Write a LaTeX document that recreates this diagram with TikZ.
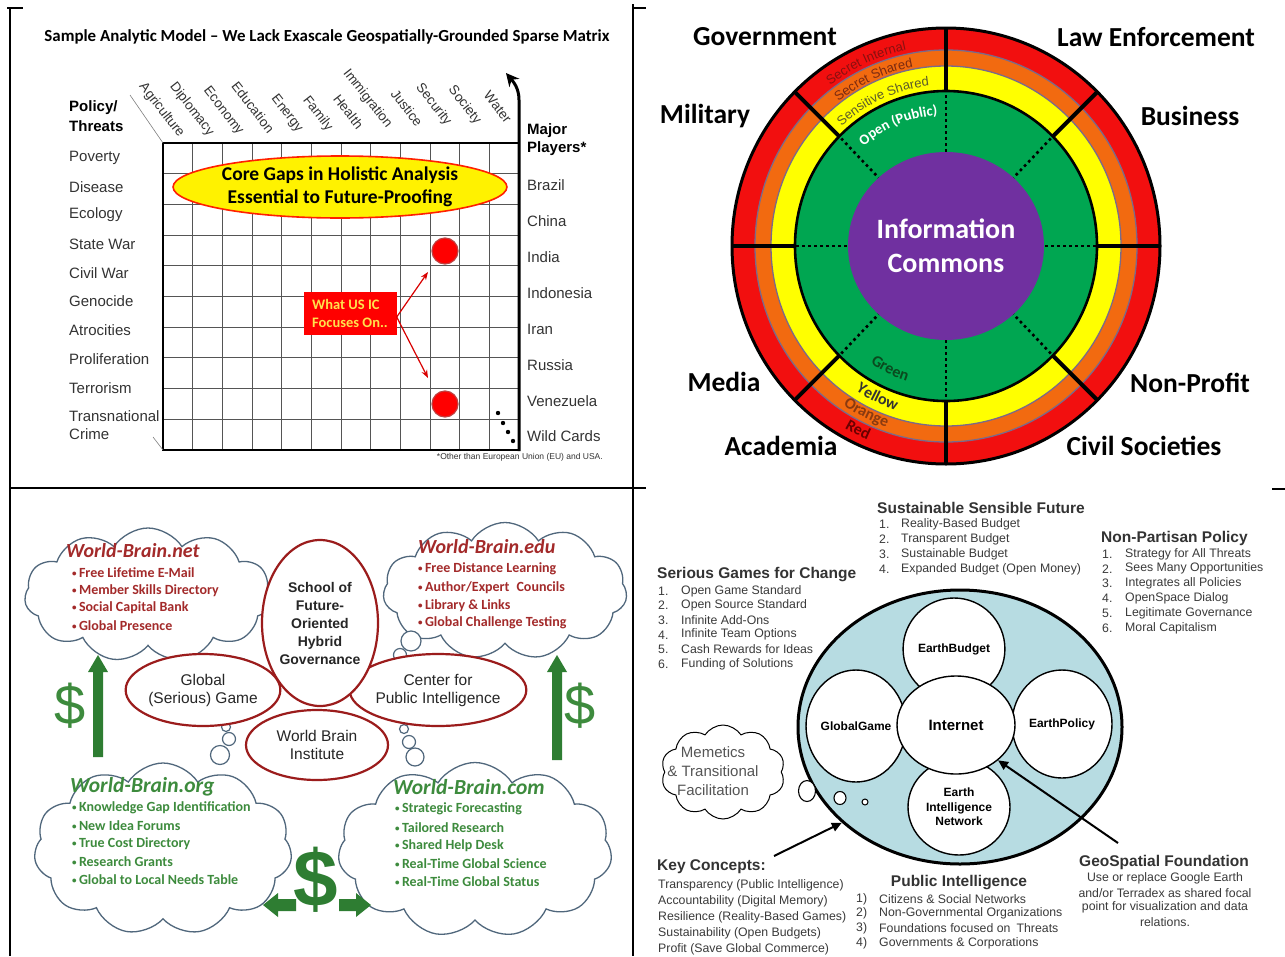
\documentclass[tikz,border=0pt]{standalone}
\usepackage{fontspec}
\setmainfont{Liberation Sans}
\newfontfamily\calib{Carlito}
\usetikzlibrary{shapes.symbols,shapes.geometric,decorations.text,arrows.meta}
\newcommand\fsz[1]{\fontsize{#1}{#1}\selectfont}
\newcommand\smbul{{\fsz{9}\raisebox{1.5pt}{•}}\,}
\definecolor{ringred}{HTML}{F20F0F}
\definecolor{ringorange}{HTML}{F26A10}
\definecolor{ringyellow}{HTML}{FFFF00}
\definecolor{ringgreen}{HTML}{00A651}
\definecolor{ringpurple}{HTML}{7030A0}
\definecolor{ringline}{HTML}{7A6A8A}
\definecolor{wbred}{HTML}{A32A2A}
\definecolor{wbgreen}{HTML}{3D8B3D}
\definecolor{arrgreen}{HTML}{2E7D32}
\definecolor{cloudblue}{HTML}{50677C}
\definecolor{ellred}{HTML}{9B1C1C}
\definecolor{pale}{HTML}{B7DCE2}
\definecolor{txtgray}{HTML}{333333}
\definecolor{itmgray}{HTML}{3A3A3A}
\definecolor{secred}{HTML}{8A0F0F}
\definecolor{secorange}{HTML}{7A2A10}
\definecolor{secyellow}{HTML}{5C5C2A}
\definecolor{dkgreen}{HTML}{0A4A1E}
\definecolor{dkorange}{HTML}{8A3A10}
\definecolor{dkred}{HTML}{6A0000}
\definecolor{icyellow}{HTML}{FFE14D}
\definecolor{gridgray}{HTML}{555555}
\definecolor{memgray}{HTML}{555555}
\begin{document}
\begin{tikzpicture}[x=1pt,y=-1pt,
  lbl/.style={font=\fsz{15}, text=txtgray, inner sep=0, anchor=west},
  lblb/.style={font=\bfseries\fsz{15}, text=black, inner sep=0, anchor=west},
  collbl/.style={font=\fsz{13.5}, text=txtgray, inner sep=0, anchor=base east, rotate=-52},
  gridln/.style={gridgray, line width=0.9pt},
  sector/.style={font=\calib\bfseries\fsz{27.5}, inner sep=0},
  wbcloud/.style={cloud, cloud puffs=11, cloud puff arc=115, cloud ignores aspect, draw=cloudblue, line width=1.3pt, fill=white, inner sep=0},
  wbtitle/.style={font=\calib\bfseries\itshape\fsz{20}, inner sep=0, anchor=west},
  wbitem/.style={font=\calib\bfseries\fsz{14}, inner sep=0, anchor=west},
  wbell/.style={ellipse, draw=ellred, line width=2.2pt, fill=white, inner sep=0, align=center, text=black!85},
  bub/.style={ellipse, draw=cloudblue, line width=1.2pt, fill=white, inner sep=0},
  innerc/.style={ellipse, draw=black, line width=1.4pt, fill=white, inner sep=0, align=center, font=\bfseries\fsz{12}},
  hdg/.style={font=\bfseries\fsz{15.5}, text=txtgray, inner sep=0, anchor=west},
  itm/.style={font=\fsz{12.3}, text=itmgray, inner sep=0, anchor=west},
  blk/.style={line width=2pt, -{Triangle[length=10pt,width=9pt]}},
]
\useasboundingbox (0,0) rectangle (1285,956);
\fill[white] (0,0) rectangle (1285,956);
% ---------- table rules ----------
\draw[line width=2.5pt] (10,7) -- (10,956);
\draw[line width=2.5pt] (633,4) -- (633,956);
\draw[line width=2.5pt] (7,8) -- (23,8);
\draw[line width=2.5pt] (633,8) -- (646,8);
\draw[line width=1.6pt] (10,488) -- (646,488);
\draw[line width=1.6pt] (1272,489) -- (1285,489);

% ================= PANEL 1 =================
\node[font=\calib\bfseries\fsz{16.9}, inner sep=0] (title) at (327,37) {Sample Analytic Model – We Lack Exascale Geospatially-Grounded Sparse Matrix};
\foreach \i in {1,...,11} \draw[gridln] ({163+\i*29.67},143) -- ({163+\i*29.67},450);
\foreach \j in {1,...,9} \draw[gridln] (163,{143+\j*30.7}) -- (519,{143+\j*30.7});
\draw[line width=2.5pt] (519,143) -- (163,143) -- (163,450) -- (519,450);
\coordinate (axtop) at (506,73);
\coordinate (axbot) at (519,451);
\draw[line width=3pt, -{Stealth[length=13pt,width=13pt]}] (axbot) -- (519,100) to[out=90,in=-50] (axtop);
\draw[gray, line width=0.6pt] (163,143) -- (130,95);
\draw[gray, line width=0.6pt] (163,450) -- (153,437);
\node[ellipse, draw=red!75!orange, fill=yellow, line width=1.6pt, minimum width=320pt, minimum height=62pt, inner sep=0, font=\calib\bfseries\fontsize{19.5}{23}\selectfont, align=center] (core) at (340,187) {Core Gaps in Holistic Analysis\\Essential to Future-Proofing};
\node[circle, fill=red, draw=red!50!gray, line width=1.2pt, minimum size=26pt, inner sep=0] (dot1) at (445,251) {};
\node[circle, fill=red, draw=red!50!gray, line width=1.2pt, minimum size=26pt, inner sep=0] (dot2) at (445,404) {};
\node[fill=red, text=icyellow, font=\calib\bfseries\fontsize{14.5}{18}\selectfont, align=left, minimum width=93pt, minimum height=43pt, inner sep=3pt] (ic) at (350,313) {What US IC\\Focuses On..};
\coordinate (ica) at (428,272);
\coordinate (icb) at (428,378);
\draw[red!85!black, line width=1.2pt, -{Stealth[length=8pt,width=6pt]}] ([yshift=-4pt]ic.east) -- (ica);
\draw[red!85!black, line width=1.2pt, -{Stealth[length=8pt,width=6pt]}] ([yshift=-4pt]ic.east) -- (icb);
\foreach \p in {(498,413),(503,423),(508,432),(513,441)} \fill \p circle[radius=2.2pt];
\foreach \t [count=\i] in {Agriculture,Diplomacy,Economy,Education,Energy,Family,Health,Immigration,Justice,Security,Society,Water}
  \node[collbl] (col\i) at ({163+(\i-0.5)*29.67+1},{138-(\i-1)*1.3}) {\t};
\node[lblb] (pol) at (69,108) {Policy/};
\node[lblb] (thr) at (69,126) {Threats};
\foreach \t/\y in {Poverty/158, Disease/187, Ecology/215, State War/244, Civil War/273, Genocide/301, Atrocities/330, Proliferation/359, Terrorism/388, Transnational/416, Crime/434}
  \node[lbl] (L\y) at (69,\y) {\t};
\node[lblb] (maj) at (527,131) {Major};
\node[lblb] (pla) at (527,149) {Players*};
\foreach \t/\y in {Brazil/185, China/221, India/257, Indonesia/293, Iran/329, Russia/365, Venezuela/401, Wild Cards/436}
  \node[lbl] (R\y) at (527,\y) {\t};
\node[font=\fsz{8.5}, text=txtgray, inner sep=0, anchor=east] (foot) at (603,457) {*Other than European Union (EU) and USA.};

% ================= PANEL 2 =================
\begin{scope}[shift={(946,246)}, y={(0pt,1pt)}]
  \fill[ringred] (0pt,0pt) ellipse[x radius=214pt, y radius=218pt];
  \draw[ringline, line width=1.3pt, fill=ringorange] (0pt,0pt) ellipse[x radius=191pt, y radius=196pt];
  \draw[ringline, line width=1.3pt, fill=ringyellow] (0pt,0pt) ellipse[x radius=175pt, y radius=180pt];
  \draw[black, line width=2.6pt, fill=ringgreen] (0pt,0pt) ellipse[x radius=151pt, y radius=155pt];
  \draw[black, line width=3pt] (0pt,0pt) ellipse[x radius=214pt, y radius=218pt];
  \foreach \a in {0,45,...,315} {
    \draw[line width=4pt] (\a:151pt and 155pt) -- (\a:214pt and 218pt);
    \draw[line width=2.6pt, dash pattern=on 2.6pt off 3.4pt] (\a:93pt and 94pt) -- (\a:151pt and 155pt);
  }
  \node[ellipse, fill=ringpurple, minimum width=186pt, minimum height=188pt, inner sep=0, font=\calib\bfseries\fontsize{28}{34}\selectfont, text=white, align=center] (infoc) at (0pt,0pt) {Information\\Commons};
  \path[decorate, decoration={text along path, text align=center, text={|\fsz{13}\color{secred}|Secret Internal}}]
    (140:195pt and 200pt) arc[start angle=140, end angle=88, x radius=195pt, y radius=200pt];
  \path[decorate, decoration={text along path, text align=center, text={|\fsz{13}\color{secorange}|Secret Shared}}]
    (140:177pt and 182pt) arc[start angle=140, end angle=88, x radius=177pt, y radius=182pt];
  \path[decorate, decoration={text along path, text align=center, text={|\fsz{13}\color{secyellow}|Sensitive Shared}}]
    (140:156pt and 161pt) arc[start angle=140, end angle=88, x radius=156pt, y radius=161pt];
  \path[decorate, decoration={text along path, text align=center, text={|\calib\bfseries\fsz{14.5}\color{white}|Open (Public)}}]
    (140:127pt and 131pt) arc[start angle=140, end angle=84, x radius=127pt, y radius=131pt];
  \path[decorate, decoration={text along path, text align=center, text={|\calib\bfseries\fsz{16}\color{dkgreen}|Green}}]
    (-140:137pt and 141pt) arc[start angle=-140, end angle=-90, x radius=137pt, y radius=141pt];
  \path[decorate, decoration={text along path, text align=center, text={|\calib\bfseries\fsz{16}\color{black!80}|Yellow}}]
    (-140:167pt and 172pt) arc[start angle=-140, end angle=-90, x radius=167pt, y radius=172pt];
  \path[decorate, decoration={text along path, text align=center, text={|\calib\bfseries\fsz{16}\color{dkorange}|Orange}}]
    (-141:186pt and 191pt) arc[start angle=-141, end angle=-91, x radius=186pt, y radius=191pt];
  \path[decorate, decoration={text along path, text align=center, text={|\calib\bfseries\fsz{16}\color{dkred}|Red}}]
    (-141:205pt and 210pt) arc[start angle=-141, end angle=-91, x radius=205pt, y radius=210pt];
\end{scope}
\node[sector] (gov) at (765,37) {Government};
\node[sector] (law) at (1156,37) {Law Enforcement};
\node[sector] (mil) at (705,116) {Military};
\node[sector] (bus) at (1190,116) {Business};
\node[sector] (med) at (724,382) {Media};
\node[sector] (npr) at (1190,383) {Non-Profit};
\node[sector] (aca) at (781,446) {Academia};
\node[sector] (civ) at (1144,446) {Civil Societies};

% ================= PANEL 3 =================
\node[wbcloud, minimum width=247pt, minimum height=134pt] (cnet) at (148,595) {};
\node[wbcloud, minimum width=244pt, minimum height=137pt] (cedu) at (505,591) {};
\node[wbcloud, minimum width=258pt, minimum height=172pt] (corg) at (163,849) {};
\node[wbcloud, minimum width=274pt, minimum height=175pt] (ccom) at (475,850) {};
\node[wbtitle, text=wbred] (tnet) at (66,551) {World-Brain.net};
\foreach \t/\y [count=\i] in {Free Lifetime E-Mail/573, Member Skills Directory/591, Social Capital Bank/608, Global Presence/626}
  \node[wbitem, text=wbred] (net\i) at (72,\y) {\smbul\t};
\node[wbtitle, text=wbred] (tedu) at (418,547) {World-Brain.edu};
\node[wbitem, text=wbred] (edu1) at (418,569) {\smbul Free Distance Learning};
\node[wbitem, text=wbred] (edu2) at (418,588) {\smbul Author/Expert\enspace Councils};
\node[wbitem, text=wbred] (edu3) at (418,606) {\smbul Library \& Links};
\node[wbitem, text=wbred] (edu4) at (418,623) {\smbul Global Challenge Testing};
\node[wbtitle, text=wbgreen, font=\calib\bfseries\itshape\fsz{21.5}] (torg) at (70,787) {World-Brain.org};
\foreach \t/\y [count=\i] in {Knowledge Gap Identification/808, New Idea Forums/826, True Cost Directory/844, Research Grants/862, Global to Local Needs Table/880}
  \node[wbitem, text=wbgreen] (org\i) at (72,\y) {\smbul\t};
\node[wbtitle, text=wbgreen, font=\calib\bfseries\itshape\fsz{21.5}] (tcom) at (393,787) {World-Brain.com};
\foreach \t/\y [count=\i] in {Strategic Forecasting/809, Tailored Research/828, Shared Help Desk/846, Real-Time Global Science/864, Real-Time Global Status/882}
  \node[wbitem, text=wbgreen] (com\i) at (395,\y) {\smbul\t};
% thought bubbles
\node[bub, minimum width=20pt, minimum height=20pt] (b1a) at (240,668) {};
\node[bub, minimum width=13pt, minimum height=13pt] (b1b) at (253,682) {};
\node[bub, minimum width=8pt, minimum height=8pt] (b1c) at (261,690) {};
\node[bub, minimum width=20pt, minimum height=20pt] (b2a) at (411,641) {};
\node[bub, minimum width=13pt, minimum height=13pt] (b2b) at (400,655) {};
\node[bub, minimum width=8pt, minimum height=8pt] (b2c) at (393,664) {};
\node[bub, minimum width=9pt, minimum height=9pt] (b3a) at (226,727) {};
\node[bub, minimum width=13pt, minimum height=13pt] (b3b) at (229,739) {};
\node[bub, minimum width=19pt, minimum height=19pt] (b3c) at (220,755) {};
\node[bub, minimum width=9pt, minimum height=9pt] (b4a) at (404,729) {};
\node[bub, minimum width=13pt, minimum height=13pt] (b4b) at (409,742) {};
\node[bub, minimum width=18pt, minimum height=18pt] (b4c) at (415,757) {};
% ellipses
\node[wbell, minimum width=150pt, minimum height=72pt, font=\fontsize{15.5}{18}\selectfont] (gg) at (203,690) {Global\\(Serious) Game};
\node[wbell, minimum width=150pt, minimum height=72pt, font=\fontsize{15.5}{18}\selectfont] (cpi) at (438,690) {Center for\\Public Intelligence};
\node[wbell, minimum width=142pt, minimum height=70pt, font=\fontsize{15.5}{18}\selectfont] (wbi) at (317,745) {World Brain\\Institute};
\node[wbell, minimum width=116pt, minimum height=166pt, font=\bfseries\fontsize{14}{18}\selectfont] (sch) at (320,623) {School of\\Future-\\Oriented\\Hybrid\\Governance};
% green arrows and dollars
\fill[arrgreen] (93,757) -- (93,672) -- (88,672) -- (98,655) -- (108,672) -- (103,672) -- (103,757) -- cycle;
\fill[arrgreen] (552,760) -- (552,672) -- (547,672) -- (557,655) -- (567,672) -- (562,672) -- (562,760) -- cycle;
\node[text=wbgreen, font=\fsz{56}, inner sep=0] (dl) at (70,706) {\$};
\node[text=wbgreen, font=\fsz{56}, inner sep=0] (dr) at (580,706) {\$};
\node[text=arrgreen, font=\bfseries\fsz{80}, inner sep=0] (db) at (316,880) {\$};
\fill[arrgreen] (296,899) -- (278,899) -- (278,893) -- (263,905) -- (278,917) -- (278,911) -- (296,911) -- cycle;
\fill[arrgreen] (339,899) -- (356,899) -- (356,893) -- (371,905) -- (356,917) -- (356,911) -- (339,911) -- cycle;

% ================= PANEL 4 =================
\node[ellipse, draw=black, line width=3pt, fill=pale, minimum width=324pt, minimum height=274pt, inner sep=0] (big) at (960,727) {};
\node[innerc, minimum width=98pt, minimum height=102pt] (ebud) at (954,649) {EarthBudget};
\node[innerc, minimum width=98pt, minimum height=112pt] (ggame) at (856,726) {GlobalGame};
\node[innerc, minimum width=100pt, minimum height=108pt] (epol) at (1062,724) {EarthPolicy};
\node[innerc, minimum width=102pt, minimum height=96pt, font=\bfseries\fontsize{12}{14.5}\selectfont] (ein) at (959,807) {Earth\\Intelligence\\Network};
\node[innerc, minimum width=118pt, minimum height=98pt, font=\bfseries\fsz{15}] (inet) at (956,725) {Internet};
\node[cloud, cloud puffs=10, cloud puff arc=115, cloud ignores aspect, draw=black, line width=1pt, fill=white, minimum width=124pt, minimum height=94pt, inner sep=0] (mem) at (723,772) {};
\node[font=\fsz{15}, text=memgray, inner sep=0] (mem1) at (713,752) {Memetics};
\node[font=\fsz{15}, text=memgray, inner sep=0] (mem2) at (713,771) {\& Transitional};
\node[font=\fsz{15}, text=memgray, inner sep=0] (mem3) at (713,790) {Facilitation};
\node[ellipse, draw=black, line width=1.1pt, fill=white, minimum width=17pt, minimum height=21pt, inner sep=0] (mb1) at (807,791) {};
\node[ellipse, draw=black, line width=1.1pt, fill=white, minimum width=12pt, minimum height=13pt, inner sep=0] (mb2) at (840,798) {};
\node[circle, draw=black, line width=1pt, fill=white, minimum size=6pt, inner sep=0] (mb3) at (865,802) {};
\coordinate (kcs) at (774,856);
\coordinate (gfs) at (1118,843);
\draw[blk] (kcs) -- (big.219);
\draw[blk] (gfs) -- (inet.-40);
% texts
\node[hdg] (ssf) at (877,508) {Sustainable Sensible Future};
\foreach \t [count=\i] in {Reality-Based Budget,Transparent Budget,Sustainable Budget,Expanded Budget (Open Money)} {
  \node[itm] (ssfn\i) at (879,{524.5+(\i-1)*14.8}) {\i.};
  \node[itm] (ssft\i) at (901,{524.5+(\i-1)*14.8}) {\t};
}
\node[hdg] (npp) at (1101,538) {Non-Partisan Policy};
\foreach \t [count=\i] in {Strategy for All Threats,Sees Many Opportunities,Integrates all Policies,OpenSpace Dialog,Legitimate Governance,Moral Capitalism} {
  \node[itm] (nppn\i) at (1102,{554+(\i-1)*14.8}) {\i.};
  \node[itm] (nppt\i) at (1125,{554+(\i-1)*14.8}) {\t};
}
\node[hdg] (sgc) at (657,575) {Serious Games for Change};
\foreach \t [count=\i] in {Open Game Standard,Open Source Standard,Infinite Add-Ons,Infinite Team Options,Cash Rewards for Ideas,Funding of Solutions} {
  \node[itm] (sgcn\i) at (658,{591+(\i-1)*14.6}) {\i.};
  \node[itm] (sgct\i) at (681,{591+(\i-1)*14.6}) {\t};
}
\node[hdg] (kc) at (657,867) {Key Concepts:};
\foreach \t [count=\i] in {Transparency (Public Intelligence),Accountability (Digital Memory),Resilience (Reality-Based Games),Sustainability (Open Budgets),Profit (Save Global Commerce)}
  \node[itm] (kct\i) at (658,{885+(\i-1)*16}) {\t};
\node[hdg, anchor=center] (pih) at (959,883) {Public Intelligence};
\node[itm] (pin1) at (856,899) {1)};
\node[itm] (pin2) at (856,913.7) {2)};
\node[itm] (pin3) at (856,928.4) {3)};
\node[itm] (pin4) at (856,943.1) {4)};
\node[itm] (pit1) at (879,899) {Citizens \& Social Networks};
\node[itm] (pit2) at (879,913.7) {Non-Governmental Organizations};
\node[itm] (pit3) at (879,928.4) {Foundations focused on\enspace Threats};
\node[itm] (pit4) at (879,943.1) {Governments \& Corporations};
\node[hdg, anchor=center] (gsf) at (1164,862) {GeoSpatial Foundation};
\node[itm, anchor=center] (gst1) at (1165,878) {Use or replace Google Earth};
\node[itm, anchor=center] (gst2) at (1165,892.8) {and/or Terradex as shared focal};
\node[itm, anchor=center] (gst3) at (1165,907.6) {point for visualization and data};
\node[itm, anchor=center] (gst4) at (1165,922.4) {relations.};
\end{tikzpicture}
\end{document}
